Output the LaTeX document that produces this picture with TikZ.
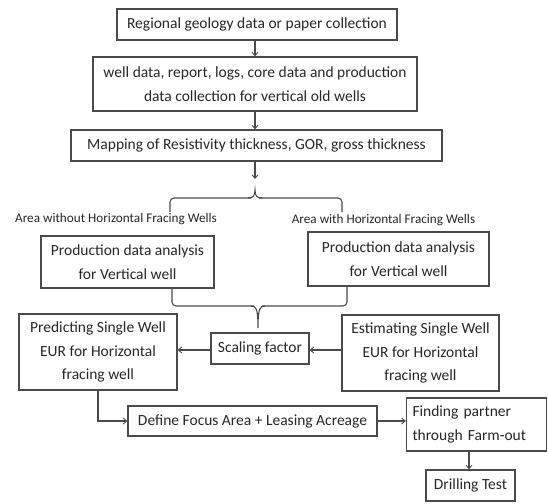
\documentclass[tikz,border=0pt]{standalone}
\usepackage{fontspec}
\setmainfont{Carlito}
\usetikzlibrary{arrows.meta}
\definecolor{boxc}{HTML}{4A4A4A}
\definecolor{txtc}{HTML}{262626}
\tikzset{
  box/.style={draw=boxc, line width=1.3pt, text=txtc, inner sep=0pt, align=center,
    font=\fontsize{15.5}{23.5}\selectfont},
  lbl/.style={text=txtc, inner sep=0pt, font=\fontsize{13.2}{15}\selectfont},
  conn/.style={draw=boxc, line width=1.1pt, -{Straight Barb[length=3.5pt,width=6pt,line width=0.9pt]}},
  brc/.style={draw=boxc, line width=1.1pt, rounded corners=4pt},
}
\begin{document}
\begin{tikzpicture}[x=1pt,y=-1pt]
\useasboundingbox (0,0) rectangle (548,503);
\node[box, minimum width=280pt, minimum height=31pt] (b1) at (257,24.5) {Regional geology data or paper collection};
\node[box, minimum width=324pt, minimum height=54pt] (b2) at (255,84) {well data, report, logs, core data and production\\data collection for vertical old wells};
\node[box, minimum width=371pt, minimum height=31pt] (b3) at (256.5,145.5) {Mapping of Resistivity thickness, GOR, gross thickness};
\node[lbl] (la) at (116,219) {Area without Horizontal Fracing Wells};
\node[lbl] (lb) at (383.5,220) {Area with Horizontal Fracing Wells};
\node[box, minimum width=173pt, minimum height=52pt] (pL) at (127.5,262) {Production data analysis\\for Vertical well};
\node[box, minimum width=181pt, minimum height=54pt] (pR) at (398.5,259) {Production data analysis\\for Vertical well};
\node[box, minimum width=158pt, minimum height=76pt] (pred) at (98,352) {Predicting Single Well\\EUR for Horizontal\\fracing well};
\node[box, minimum width=98pt, minimum height=31pt] (sc) at (260,348.5) {Scaling factor};
\node[box, minimum width=157pt, minimum height=76pt] (est) at (420.5,353) {Estimating Single Well\\EUR for Horizontal\\fracing well};
\node[box, minimum width=249pt, minimum height=30pt] (def) at (252.5,421) {Define Focus Area + Leasing Acreage};
\node[box, minimum width=140pt, minimum height=53pt, align=left, text width=128pt] (find) at (476.5,424.5) {Finding partner\\through Farm-out};
\node[box, minimum width=89pt, minimum height=31pt] (dr) at (470.5,485.5) {Drilling Test};
% vertical arrows
\draw[conn] (b1.south -| 255,0) -- (b2.north -| 255,0);
\draw[conn] (b2.south -| 255,0) -- (b3.north -| 255,0);
\coordinate (bt) at (255,179);
\draw[conn] (b3.south -| bt) -- (bt);
% upper brace
\coordinate (ubl) at (170,212);
\coordinate (ubr) at (342,212);
\coordinate (ubp) at (255,190);
\draw[brc] (ubl) -- (170,198) -- (251,198);
\draw[draw=boxc, line width=1.1pt] (248,198) .. controls (253,198) and (255,196) .. (ubp) .. controls (255,196) and (257,198) .. (262,198);
\draw[brc] (259,198) -- (342,198) -- (ubr);
% lower brace
\coordinate (lbp) at (258,328);
\draw[brc] (pL.south -| 172,0) -- (172,306) -- (254,306);
\draw[draw=boxc, line width=1.1pt] (251,306) .. controls (256,306) and (258,308) .. (lbp) .. controls (258,308) and (260,306) .. (265,306);
\draw[brc] (262,306) -- (347,306) -- (pR.south -| 347,0);
% horizontal arrows
\draw[conn] (est.west |- 0,350) -- (sc.east |- 0,350);
\draw[conn] (sc.west |- 0,350) -- (pred.east |- 0,350);
\draw[conn] (pred.south -| 98,0) |- (def.west);
\draw[conn] (def.east) -- (find.west |- def.east);
\draw[conn] (find.south -| 469,0) -- (dr.north -| 469,0);
\end{tikzpicture}
\end{document}
